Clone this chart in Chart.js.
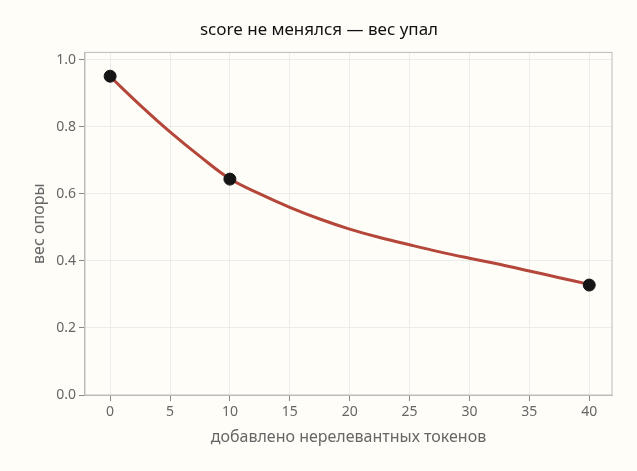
<!DOCTYPE html>
<html><head><meta charset="utf-8">
<script src="https://cdn.jsdelivr.net/npm/chart.js@4"></script>
<style>html,body{margin:0;background:#fffdf8}#wrap{width:637px;height:471px}</style>
</head><body><div id="wrap"><canvas id="c"></canvas></div>
<script>
// значения
const curveX = [0, 2.5, 5, 7.5, 10, 12.5, 15, 17.5, 20, 22.5, 25, 27.5, 30, 32.5, 35, 37.5, 40];
const curveY = [0.95, 0.865, 0.785, 0.712, 0.645, 0.60, 0.56, 0.525, 0.495, 0.47, 0.448, 0.427, 0.408, 0.39, 0.37, 0.35, 0.33];
const markX = [0, 10, 40];
const markY = [0.951, 0.644, 0.328];
const yTicks = [0, 0.2, 0.4, 0.6, 0.8, 1.0];

const font = 'Noto Sans';
new Chart(document.getElementById('c'), {
  type: 'scatter',
  data: {datasets: [
    {data: markX.map((x, i) => ({x, y: markY[i]})), backgroundColor: '#151515', borderColor: '#151515', pointRadius: 6, order: 0},
    {type: 'line', data: curveX.map((x, i) => ({x, y: curveY[i]})), borderColor: '#b5473a', borderWidth: 3, pointRadius: 0, tension: 0.4, fill: false, order: 1}
  ]},
  options: {
    responsive: true, maintainAspectRatio: false, animation: false,
    layout: {padding: {left: 26, right: 25, top: 16, bottom: 20}},
    plugins: {
      legend: {display: false}, tooltip: {enabled: false},
      title: {display: true, text: 'score не менялся — вес упал', color: '#111', font: {family: font, size: 17, weight: 'normal'}, padding: {top: 4, bottom: 12}}
    },
    scales: {
      x: {type: 'linear', min: -2.1, max: 41.9,
        afterBuildTicks: a => { a.ticks = [0,5,10,15,20,25,30,35,40].map(v => ({value: v})); },
        grid: {color: '#ececec', tickColor: '#888', tickLength: 6}, border: {color: '#bbb'},
        ticks: {color: '#666', font: {family: font, size: 14}},
        title: {display: true, text: 'добавлено нерелевантных токенов', color: '#666', font: {family: font, size: 16}}},
      y: {min: 0, max: 1.022,
        afterBuildTicks: a => { a.ticks = yTicks.map(v => ({value: v})); },
        grid: {color: '#ececec', tickColor: '#888', tickLength: 6}, border: {color: '#bbb'},
        ticks: {color: '#666', font: {family: font, size: 14}, callback: v => v.toFixed(1)},
        title: {display: true, text: 'вес опоры', color: '#666', font: {family: font, size: 16}}}
    }
  },
  plugins: [{id: 'box', afterDraw(ch) {
    const a = ch.chartArea, c = ch.ctx;
    c.save(); c.strokeStyle = '#bbb'; c.lineWidth = 1;
    c.strokeRect(a.left, a.top, a.right - a.left, a.bottom - a.top); c.restore();
  }}]
});
</script></body></html>
